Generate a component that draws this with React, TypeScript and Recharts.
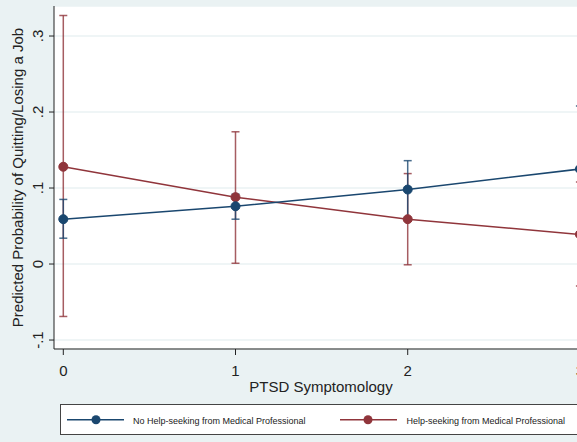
import {
  ComposedChart,
  Line,
  ErrorBar,
  XAxis,
  YAxis,
  CartesianGrid,
  Legend,
  Label,
} from 'recharts';

const symptomLevels = [0, 1, 2, 3];

const noHelpPred = [0.059, 0.076, 0.098, 0.125];
const noHelpLow = [0.034, 0.059, 0.06, 0.042];
const noHelpHigh = [0.085, 0.092, 0.136, 0.208];

const helpPred = [0.128, 0.088, 0.059, 0.039];
const helpLow = [-0.069, 0.001, -0.001, -0.029];
const helpHigh = [0.327, 0.174, 0.119, 0.108];

const yTicks = [-0.1, 0, 0.1, 0.2, 0.3];
const xTicks = [0, 1, 2, 3];

const seriesNames = [
  'No Help-seeking from Medical Professional',
  'Help-seeking from Medical Professional',
];

const BLUE = '#1a476f';
const RED = '#90353b';
const BG = '#eaf2f3';
const FONT = '"Liberation Sans", Arial, sans-serif';

const data = symptomLevels.map((x, i) => ({
  x,
  noHelp: noHelpPred[i],
  noHelpErr: [noHelpPred[i] - noHelpLow[i], noHelpHigh[i] - noHelpPred[i]],
  help: helpPred[i],
  helpErr: [helpPred[i] - helpLow[i], helpHigh[i] - helpPred[i]],
}));

const fmtY = (v: number) =>
  v === 0 ? '0' : v.toFixed(1).replace('0.', '.');

function YTick({ x, y, payload }: any) {
  return (
    <text
      x={x}
      y={y}
      transform={`rotate(-90 ${x} ${y})`}
      textAnchor="middle"
      fontSize={15}
      fontFamily={FONT}
      fill="#222"
    >
      {fmtY(payload.value)}
    </text>
  );
}

function LegendBox() {
  return (
    <svg width={560} height={31} style={{ display: 'block' }}>
      <rect x={0.5} y={0.5} width={559} height={30} fill="#fff" stroke="#444" />
      <line x1={7} x2={64} y1={15.7} y2={15.7} stroke={BLUE} strokeWidth={1.5} />
      <circle cx={36} cy={15.7} r={4.5} fill={BLUE} />
      <text x={73} y={19.8} fontSize={9} fontFamily={FONT} fill="#222">
        {seriesNames[0]}
      </text>
      <line x1={280} x2={337} y1={15.7} y2={15.7} stroke={RED} strokeWidth={1.5} />
      <circle cx={308} cy={15.7} r={4.5} fill={RED} />
      <text x={346.5} y={19.8} fontSize={9} fontFamily={FONT} fill="#222">
        {seriesNames[1]}
      </text>
    </svg>
  );
}

export default function App() {
  return (
    <div
      style={{
        position: 'fixed',
        left: 0,
        top: 0,
        width: 577,
        height: 442,
        overflow: 'hidden',
        background: BG,
      }}
    >
      <ComposedChart
        width={600}
        height={442}
        data={data}
        margin={{ top: 6, right: 12, bottom: 43, left: 0 }}
      >
        <CartesianGrid
          vertical={false}
          stroke={BG}
          strokeWidth={1.5}
          fill="#fff"
        />
        <XAxis
          dataKey="x"
          type="number"
          domain={[-0.054, 3.047]}
          allowDataOverflow
          ticks={xTicks}
          height={50}
          tickSize={6}
          tickMargin={10}
          stroke="#222"
          tick={{ fontSize: 15, fontFamily: FONT, fill: '#222' }}
        >
          <Label
            content={({ viewBox }: any) => (
              <text
                x={viewBox.x + viewBox.width / 2}
                y={viewBox.y + 42.5}
                textAnchor="middle"
                fontSize={15}
                fontFamily={FONT}
                fill="#222"
              >
                PTSD Symptomology
              </text>
            )}
          />
        </XAxis>
        <YAxis
          type="number"
          domain={[-0.1118, 0.3395]}
          allowDataOverflow
          ticks={yTicks}
          width={54}
          tickSize={5}
          tickMargin={6}
          stroke="#222"
          tick={<YTick />}
        >
          <Label
            content={({ viewBox }: any) => {
              const cx = viewBox.x + 23;
              const cy = viewBox.y + viewBox.height / 2;
              return (
                <text
                  x={cx}
                  y={cy}
                  transform={`rotate(-90 ${cx} ${cy})`}
                  textAnchor="middle"
                  fontSize={15}
                  fontFamily={FONT}
                  fill="#222"
                >
                  Predicted Probability of Quitting/Losing a Job
                </text>
              );
            }}
          />
        </YAxis>
        <Line
          dataKey="help"
          type="linear"
          stroke={RED}
          strokeWidth={1.5}
          dot={{ r: 4.5, fill: RED, stroke: RED, strokeWidth: 1 }}
          activeDot={false}
          isAnimationActive={false}
        >
          <ErrorBar
            dataKey="helpErr"
            width={4}
            stroke={RED}
            strokeOpacity={0.8}
            strokeWidth={1.5}
            isAnimationActive={false}
          />
        </Line>
        <Line
          dataKey="noHelp"
          type="linear"
          stroke={BLUE}
          strokeWidth={1.5}
          dot={{ r: 4.5, fill: BLUE, stroke: BLUE, strokeWidth: 1 }}
          activeDot={false}
          isAnimationActive={false}
        >
          <ErrorBar
            dataKey="noHelpErr"
            width={4}
            stroke={BLUE}
            strokeOpacity={0.8}
            strokeWidth={1.5}
            isAnimationActive={false}
          />
        </Line>
        <Legend
          layout="horizontal"
          verticalAlign="middle"
          align="center"
          content={() => <LegendBox />}
          wrapperStyle={{ left: 60, top: 404, width: 560, height: 31 }}
        />
      </ComposedChart>
    </div>
  );
}
